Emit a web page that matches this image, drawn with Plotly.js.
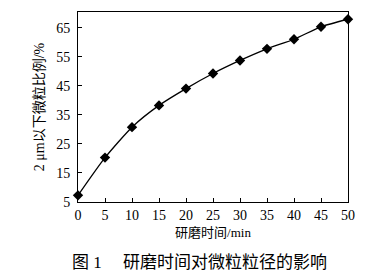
<!DOCTYPE html>
<html><head><meta charset="utf-8">
<script src="https://cdn.plot.ly/plotly-3.0.1.min.js"></script>
<style>html,body{margin:0;padding:0;background:#fff}#c{width:392px;height:272px}</style>
</head><body><div id="c"></div>
<script>
const timeMin = [0, 5, 10, 15, 20, 25, 30, 35, 40, 45, 50];
const fineRatio = [7.3, 20.3, 30.8, 38.3, 44.1, 49.3, 53.8, 57.8, 61.1, 65.4, 68.0];
const xTicks = [0, 5, 10, 15, 20, 25, 30, 35, 40, 45, 50];
const yTicks = [5, 15, 25, 35, 45, 55, 65];
const xTitle = '研磨时间/min';
const yTitle = '2 μm以下微粒比例/%';
const caption = '图 1　 研磨时间对微粒粒径的影响';

const serif = '"Liberation Serif", "Noto Sans CJK SC", serif';
const trace = {
  x: timeMin, y: fineRatio, type: 'scatter', mode: 'lines+markers',
  line: {color: '#000', width: 1.3, shape: 'spline', smoothing: 0.6},
  marker: {symbol: 'diamond', size: 8, color: '#000'},
  cliponaxis: false, hoverinfo: 'skip'
};
const layout = {
  width: 392, height: 272,
  margin: {l: 78, r: 44, t: 12, b: 70, pad: 0},
  paper_bgcolor: '#fff', plot_bgcolor: '#fff',
  showlegend: false,
  font: {family: serif, color: '#000', size: 13},
  xaxis: {
    range: [0, 50], tickvals: xTicks, ticktext: xTicks.map(String),
    ticks: 'inside', ticklen: 4, tickcolor: '#000', tickwidth: 1,
    showline: true, linecolor: '#000', linewidth: 1, mirror: true,
    showgrid: false, zeroline: false,
    tickfont: {family: serif, size: 14},
    title: {text: xTitle, font: {family: serif, size: 13}, standoff: 6}
  },
  yaxis: {
    range: [5, 70.5], tickvals: yTicks, ticktext: yTicks.map(String),
    ticks: 'inside', ticklen: 4, tickcolor: '#000', tickwidth: 1,
    ticklabelstandoff: 4,
    showline: true, linecolor: '#000', linewidth: 1, mirror: true,
    showgrid: false, zeroline: false,
    tickfont: {family: serif, size: 14},
    title: {text: yTitle, font: {family: serif, size: 14}, standoff: 8}
  },
  annotations: [{
    text: caption, xref: 'paper', yref: 'paper', x: 0.45, y: -0.316,
    xanchor: 'center', yanchor: 'middle', showarrow: false,
    font: {family: serif, size: 17}
  }]
};
Plotly.newPlot('c', [trace], layout, {staticPlot: true, displayModeBar: false});
</script></body></html>
